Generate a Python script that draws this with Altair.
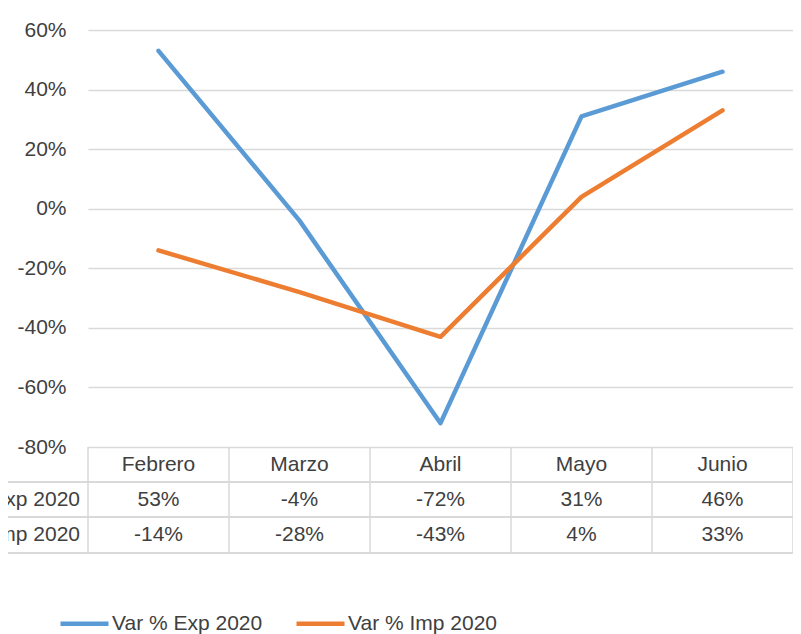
import altair as alt
import pandas as pd

months = ["Febrero", "Marzo", "Abril", "Mayo", "Junio"]
exp_vals = [53, -4, -72, 31, 46]
imp_vals = [-14, -28, -43, 4, 33]
series_names = ["Var % Exp 2020", "Var % Imp 2020"]
colors = ["#5B9BD5", "#ED7D31"]
y_ticks = [-80, -60, -40, -20, 0, 20, 40, 60]

W = 705
H = 417
FONT = "Liberation Sans"
FS = 21
TXT = "#404040"
GRID = "#d9d9d9"

rows = []
for name, vals in zip(series_names, [exp_vals, imp_vals]):
    for m, v in zip(months, vals):
        rows.append({"month": m, "series": name, "value": v})
df = pd.DataFrame(rows)
df_months = pd.DataFrame({"month": months})
df_bounds = pd.DataFrame({"b": list(range(len(months) + 1))})

xscale = alt.Scale(type="point", domain=months, padding=0.5)
yscale = alt.Scale(domain=[y_ticks[0], y_ticks[-1]], nice=False, zero=False)

lines = alt.Chart(df).mark_line(strokeWidth=4.5, strokeCap="round", strokeJoin="round").encode(
    x=alt.X("month:N", scale=xscale, sort=months, axis=None),
    y=alt.Y("value:Q", scale=yscale,
            axis=alt.Axis(values=y_ticks, labelExpr="datum.value + '%'", domain=False, ticks=False,
                          labelPadding=22, labelFontSize=FS, labelFont=FONT, labelColor=TXT,
                          grid=True, gridColor=GRID, gridWidth=1.5, title=None)),
    color=alt.Color("series:N", sort=series_names,
                    scale=alt.Scale(domain=series_names, range=colors),
                    legend=alt.Legend(orient="none", legendX=-30, legendY=567, direction="horizontal",
                                      title=None, symbolType="stroke", symbolSize=2304,
                                      symbolStrokeWidth=4.5, labelFontSize=FS, labelFont=FONT,
                                      labelColor=TXT, columnPadding=24, labelOffset=1,
                                      padding=0)),
)

# table horizontal lines
hlines = alt.layer(*[
    alt.Chart(df_months).mark_rule(color=GRID, strokeWidth=1.5).encode(
        x=alt.value(-88), x2=alt.value(W), y=alt.value(yy))
    for yy in [452, 487, 523]
])

vlines = alt.Chart(df_bounds).mark_rule(color=GRID, strokeWidth=1.5).encode(
    x=alt.X("b:Q", scale=alt.Scale(domain=[0, len(months)], nice=False), axis=None),
    y=alt.value(H), y2=alt.value(523),
)

header = alt.Chart(df_months).mark_text(fontSize=FS, font=FONT, color=TXT, baseline="middle").encode(
    x=alt.X("month:N", scale=xscale, sort=months, axis=None),
    y=alt.value(434.5), text="month:N",
)

def value_row(name, yy):
    return alt.Chart(df).transform_filter(alt.datum.series == name).transform_calculate(
        label="datum.value + '%'"
    ).mark_text(fontSize=FS, font=FONT, color=TXT, baseline="middle").encode(
        x=alt.X("month:N", scale=xscale, sort=months, axis=None),
        y=alt.value(yy), text="label:N",
    )

row_labels = alt.Chart(pd.DataFrame({"s": series_names, "yy": [469.5, 505]})).mark_text(
    fontSize=FS, font=FONT, color=TXT, align="right", baseline="middle").encode(
    x=alt.value(-8), y=alt.Y("yy:Q", scale=None), text="s:N")

chart = alt.layer(
    alt.layer(hlines, lines, header, value_row(series_names[0], 469.5),
              value_row(series_names[1], 505), row_labels),
    vlines,
).resolve_scale(x="independent").properties(
    width=W, height=H,
    padding={"left": 80, "top": 22, "right": 0, "bottom": 187},
    autosize=alt.AutoSizeParams(type="none"),
    background="white",
).configure_view(stroke=None)

chart.save("out.html", embed_options={"renderer": "svg", "actions": False})
